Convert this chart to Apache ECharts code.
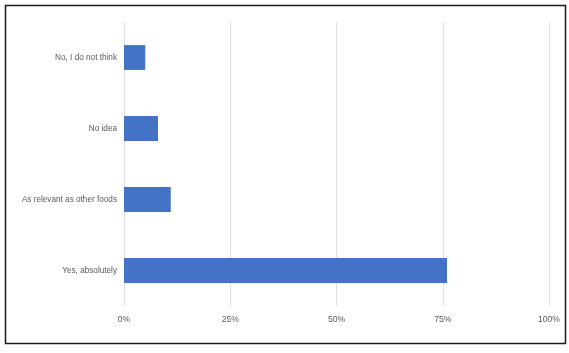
<!DOCTYPE html>
<html>
<head>
<meta charset="utf-8">
<script src="https://cdn.jsdelivr.net/npm/echarts@6/dist/echarts.min.js"></script>
<style>
  html, body { margin: 0; padding: 0; background: #fff; }
  #chart { width: 569px; height: 353px; }
</style>
</head>
<body>
<div id="chart"></div>
<script>
// answers, listed top to bottom as drawn
const categories = ["No, I do not think", "No idea", "As relevant as other foods", "Yes, absolutely"];
const shares = [5, 8, 11, 76];
const tickValues = [0, 25, 50, 75, 100];

const chart = echarts.init(document.getElementById("chart"));

chart.setOption({
  animation: false,
  backgroundColor: "#fff",
  textStyle: { fontFamily: "Liberation Sans, Arial, sans-serif" },
  graphic: [
    {
      type: "rect",
      shape: { x: 5.5, y: 5.5, width: 560, height: 338 },
      style: { fill: "none", stroke: "#1a1a1a", lineWidth: 1.5 },
      silent: true,
    },
  ],
  grid: {
    left: 124,
    right: 20,
    top: 22,
    bottom: 47,
    containLabel: false,
  },
  xAxis: {
    type: "value",
    min: 0,
    max: 100,
    interval: 25,
    axisLine: { show: false },
    axisTick: { show: false },
    axisLabel: {
      color: "#595959",
      fontSize: 8.6,
      margin: 9,
      formatter: v => (tickValues.includes(v) ? v + "%" : ""),
    },
    splitLine: { show: true, lineStyle: { color: "#e0e0e0", width: 1 } },
  },
  yAxis: {
    type: "category",
    inverse: true,
    data: categories,
    axisLine: { show: false },
    axisTick: { show: false },
    axisLabel: { color: "#595959", fontSize: 8.2, margin: 7 },
  },
  series: [
    {
      type: "bar",
      data: shares,
      barWidth: "35%",
      itemStyle: { color: "#4472c4" },
    },
  ],
});
</script>
</body>
</html>
